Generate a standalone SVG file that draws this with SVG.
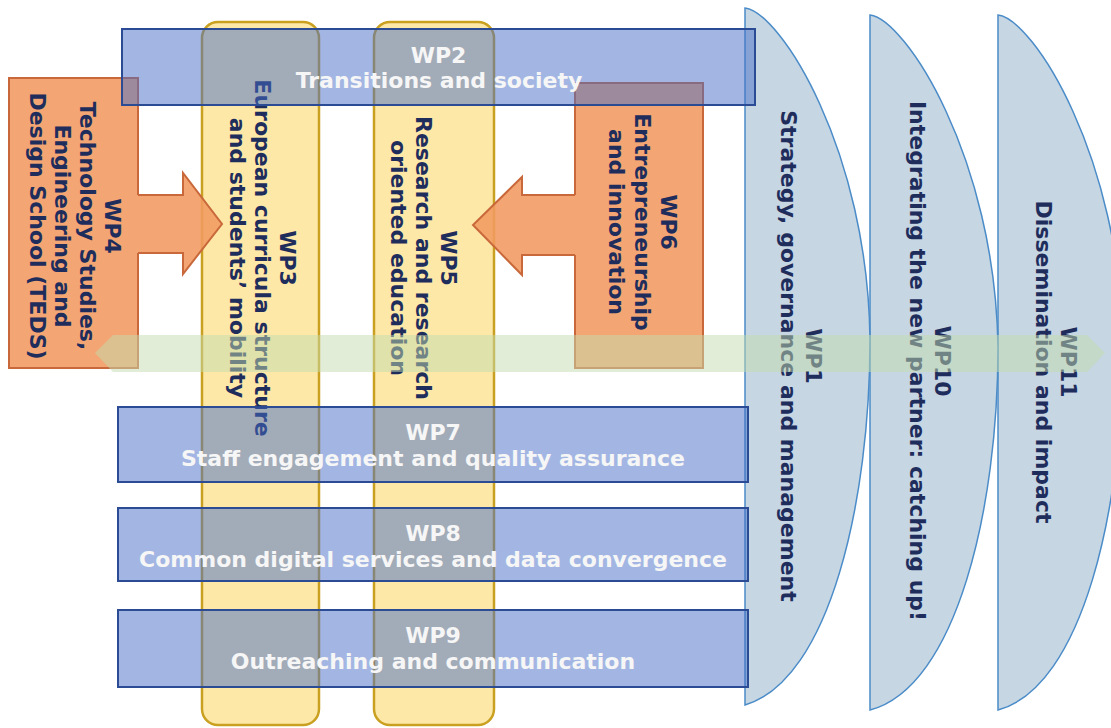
<svg xmlns="http://www.w3.org/2000/svg" width="1111" height="728" viewBox="0 0 1111 728">
<style>
  .arc{fill:#c6d6e3;stroke:#4b8cc8;stroke-width:1.5}
  .yel{fill:#fde8a8;stroke:#c9a020;stroke-width:2.5}
  .org{fill:#f19a60;fill-opacity:0.88;stroke:none}
  .orgl{fill:none;stroke:#c9683a;stroke-width:2}
  .orga{fill:#f19a60;fill-opacity:0.88;stroke:#c9683a;stroke-width:2;stroke-linejoin:miter}
  .blu{fill:#486ec8;fill-opacity:0.5;stroke:#2b4b94;stroke-width:2}
  .grn{fill:#c4dcae;fill-opacity:0.5;stroke:none}
  text{font-family:"DejaVu Sans","Liberation Sans",sans-serif;font-weight:bold;font-size:22px}
  .dk{fill:#1f2d5c}
  .wt{fill:#f6f6f6}
</style>
<rect width="1111" height="728" fill="#ffffff"/>

<g id="wp11">
  <path class="arc" d="M998,15 C1033,19 1121,157 1123,347 C1123,507 1083,687 998,710 Z"/>
  <g transform="translate(1056.5,362) rotate(90)"><text class="dk" text-anchor="middle"><tspan x="0" y="-4.5">WP11</tspan><tspan x="0" y="20.5">Dissemination and impact</tspan></text></g>
</g>
<g id="wp10">
  <path class="arc" d="M870,15 C905,19 995,157 998,347 C998,507 957,687 870,710 Z"/>
  <g transform="translate(930.5,361) rotate(90)"><text class="dk" text-anchor="middle"><tspan x="0" y="-4.5">WP10</tspan><tspan x="0" y="20.5">Integrating the new partner: catching up!</tspan></text></g>
</g>
<g id="wp1">
  <path class="arc" d="M745,8 C780,12 868,150 870,340 C870,500 830,680 745,705 Z"/>
  <g transform="translate(801.5,356) rotate(90)"><text class="dk" text-anchor="middle"><tspan x="0" y="-4.5">WP1</tspan><tspan x="0" y="20.5">Strategy, governance and management</tspan></text></g>
</g>

<g id="wp3">
  <rect class="yel" x="202" y="22" width="117" height="703" rx="16"/>
  <g transform="translate(263,258) rotate(90)"><text class="dk" text-anchor="middle"><tspan x="0" y="-17">WP3</tspan><tspan x="0" y="8">European curricula structure</tspan><tspan x="0" y="33">and students’ mobility</tspan></text></g>
</g>
<g id="wp5">
  <rect class="yel" x="374" y="22" width="120" height="703" rx="16"/>
  <g transform="translate(424,258) rotate(90)"><text class="dk" text-anchor="middle"><tspan x="0" y="-17">WP5</tspan><tspan x="0" y="8">Research and research</tspan><tspan x="0" y="33">oriented education</tspan></text></g>
</g>

<g id="wp4">
  <rect class="org" x="9" y="78" width="129" height="290"/>
  <path class="orgl" d="M138,195 V78 H9 V368 H138 V253"/>
  <g transform="translate(75.5,226) rotate(90)"><text class="dk" text-anchor="middle"><tspan x="0" y="-29.5">WP4</tspan><tspan x="0" y="-4.5">Technology Studies,</tspan><tspan x="0" y="20.5">Engineering and</tspan><tspan x="0" y="45.5">Design School (TEDS)</tspan></text></g>
</g>
<g id="wp6">
  <rect class="org" x="575" y="83" width="128" height="285"/>
  <path class="orgl" d="M575,195 V83 H703 V368 H575 V255"/>
  <g transform="translate(643,222) rotate(90)"><text class="dk" text-anchor="middle"><tspan x="0" y="-18">WP6</tspan><tspan x="0" y="8">Entrepreneurship</tspan><tspan x="0" y="34">and innovation</tspan></text></g>
</g>

<g id="connectors">
  <path class="orga" d="M138,195 H183 V173 L222,224 L183,274 V253 H138"/>
  <path class="orga" d="M575,195 H522 V177 L473,225 L522,275 V255 H575"/>
</g>

<g id="wp2">
  <rect class="blu" x="122" y="29" width="633" height="76"/>
  <text class="wt" text-anchor="middle" x="438.5" y="63">WP2</text>
  <text class="wt" text-anchor="middle" x="439" y="88">Transitions and society</text>
</g>
<g id="wp7">
  <rect class="blu" x="118" y="407" width="630" height="75"/>
  <text class="wt" text-anchor="middle" x="433" y="440">WP7</text>
  <text class="wt" text-anchor="middle" x="433" y="466">Staff engagement and quality assurance</text>
</g>
<g id="wp8">
  <rect class="blu" x="118" y="508" width="630" height="73"/>
  <text class="wt" text-anchor="middle" x="433" y="541">WP8</text>
  <text class="wt" text-anchor="middle" x="433" y="567">Common digital services and data convergence</text>
</g>
<g id="wp9">
  <rect class="blu" x="118" y="610" width="630" height="77"/>
  <text class="wt" text-anchor="middle" x="433" y="643">WP9</text>
  <text class="wt" text-anchor="middle" x="433" y="669">Outreaching and communication</text>
</g>

<g id="connectors-band">
  <polygon class="grn" points="95,353 113,335 1087,335 1105,353 1087,372 113,372"/>
</g>
</svg>
